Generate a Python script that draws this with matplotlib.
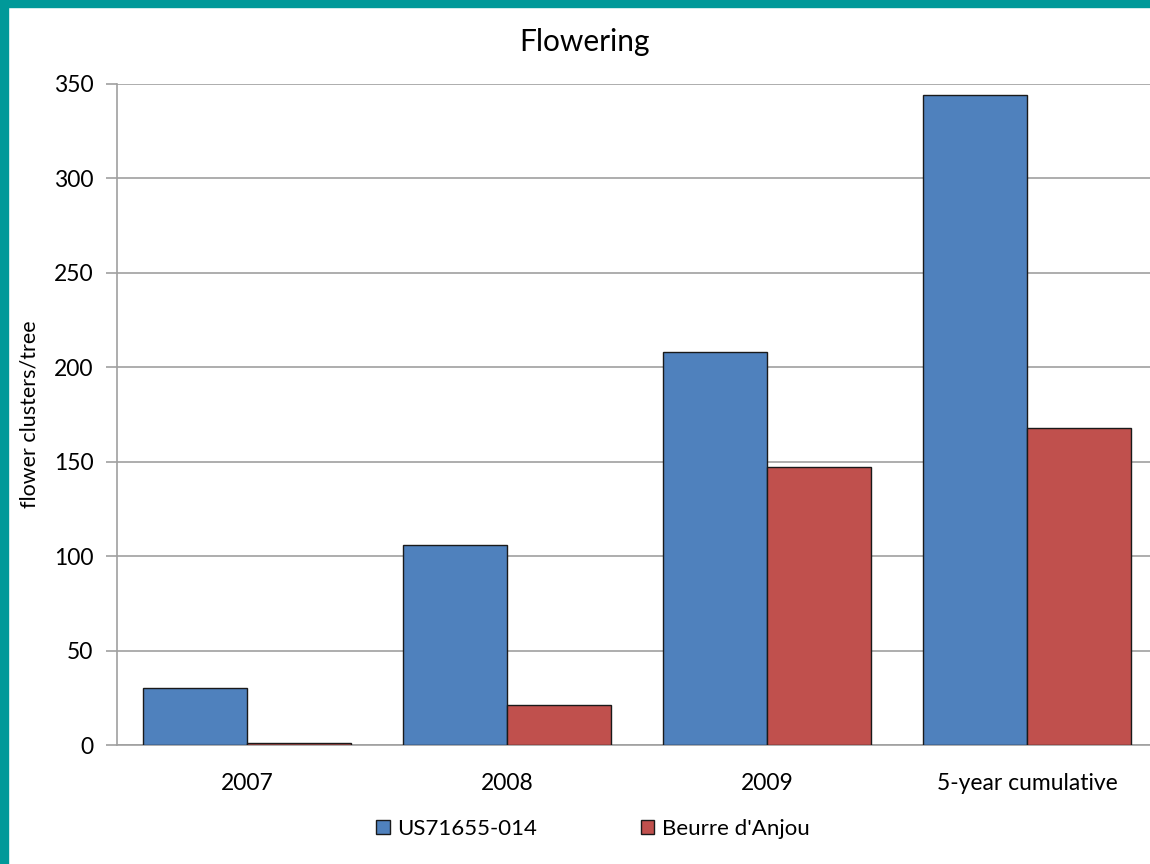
import matplotlib
matplotlib.use("Agg")
import matplotlib.pyplot as plt
from matplotlib.patches import Rectangle
import numpy as np

categories = ["2007", "2008", "2009", "5-year cumulative"]
us_values = [30, 106, 208, 344]
anjou_values = [1, 21, 147, 168]
series_names = ["US71655-014", "Beurre d'Anjou"]
yticks = [0, 50, 100, 150, 200, 250, 300, 350]

plt.rcParams['font.family'] = ['Lato', 'DejaVu Sans']

W, H = 1150, 864
fig = plt.figure(figsize=(W/100, H/100), dpi=100)
fig.patch.set_facecolor('white')

left, right, top, bottom = 117, 1157, 84, 745
ax = fig.add_axes([left/W, 1-bottom/H, (right-left)/W, (bottom-top)/H])

x = np.arange(len(categories))
bw = 0.4
ax.bar(x - bw/2, us_values, bw, color='#4F81BD', edgecolor='#1a1a1a', linewidth=1, label=series_names[0], zorder=3)
ax.bar(x + bw/2, anjou_values, bw, color='#C0504D', edgecolor='#1a1a1a', linewidth=1, label=series_names[1], zorder=3)

ax.set_xlim(-0.5, len(categories) - 0.5)
ax.set_ylim(0, 350)
ax.set_yticks(yticks)
ax.set_xticks(x)
ax.set_xticklabels(categories, fontsize=16.5)
ax.tick_params(axis='y', labelsize=16.5, length=8, color='#a0a0a0', width=1.2, pad=9)
ax.tick_params(axis='x', length=0, pad=20)
ax.yaxis.grid(True, color='#a0a0a0', linewidth=1.2, zorder=0)
ax.set_axisbelow(True)
for s in ['top', 'right']:
    ax.spines[s].set_visible(False)
for s in ['left', 'bottom']:
    ax.spines[s].set_color('#a0a0a0')
    ax.spines[s].set_linewidth(1.2)

ax.set_ylabel('flower clusters/tree', fontsize=15.5)
ax.yaxis.set_label_coords(-(117-30)/(right-left), 0.5)
ax.yaxis.label.set_va('center')

fig.text(584/W, 1-42/H, 'Flowering', ha='center', va='center', fontsize=21.5)

ax.legend(loc='center', bbox_to_anchor=((593 - left)/(right-left), (bottom - 829)/(bottom-top)),
          bbox_transform=ax.transAxes, ncol=2, frameon=False, fontsize=16,
          handlelength=0.6, handleheight=0.6, handletextpad=0.35, columnspacing=4.65)

fig.patches.append(Rectangle((0, 0), 8/W, 1, transform=fig.transFigure, color='#009999', zorder=10))
fig.patches.append(Rectangle((0, 1-7/H), 1, 7/H, transform=fig.transFigure, color='#009999', zorder=10))

fig.savefig('out.png', dpi=100)
